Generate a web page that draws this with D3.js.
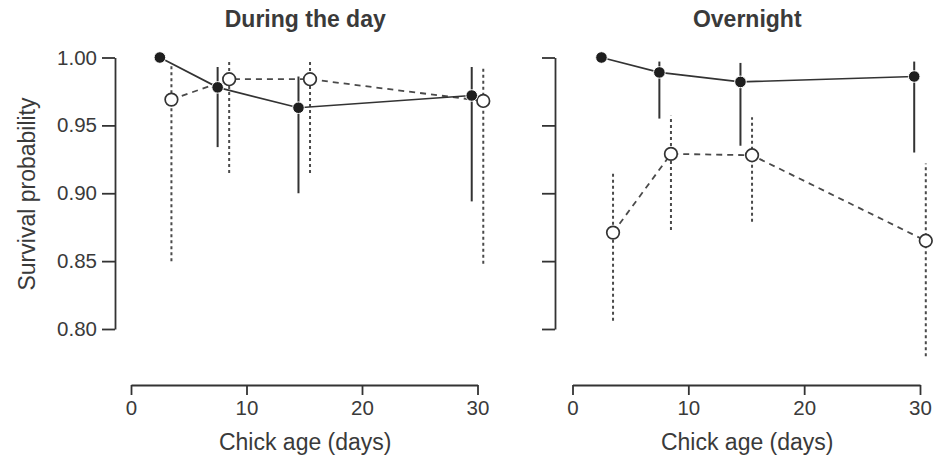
<!DOCTYPE html>
<html>
<head>
<meta charset="utf-8">
<script src="https://cdn.jsdelivr.net/npm/d3@7"></script>
<style>
  body { margin: 0; background: #fff; }
  text { font-family: "Liberation Sans", Arial, sans-serif; fill: #3a3a3a; }
</style>
</head>
<body>
<div id="chart"></div>
<script>
// chick age (days) for each group
const ageSolid = [2.5, 7.5, 14.5, 29.5];
const ageOpen = [3.5, 8.5, 15.5, 30.5];

// during the day
const daySolid = [1.000, 0.978, 0.963, 0.972];
const daySolidLo = [null, 0.934, 0.900, 0.894];
const daySolidHi = [null, 0.993, 0.986, 0.993];
const dayOpen = [0.969, 0.984, 0.984, 0.968];
const dayOpenLo = [0.850, 0.915, 0.915, 0.848];
const dayOpenHi = [0.996, 0.998, 0.998, 0.994];

// overnight
const nightSolid = [1.000, 0.989, 0.982, 0.986];
const nightSolidLo = [null, 0.955, 0.935, 0.930];
const nightSolidHi = [null, 0.997, 0.996, 0.997];
const nightOpen = [0.871, 0.929, 0.928, 0.865];
const nightOpenLo = [0.806, 0.873, 0.879, 0.780];
const nightOpenHi = [0.915, 0.957, 0.956, 0.922];

const xTicks = [0, 10, 20, 30];
const yTicks = [0.80, 0.85, 0.90, 0.95, 1.00];
const titles = ["During the day", "Overnight"];

const W = 946, H = 459;
const svg = d3.select("#chart").append("svg").attr("width", W).attr("height", H);

const ink = "#333";

function mk(x, v, lo, hi) {
  return x.map((d, i) => ({x: d, y: v[i], lo: lo[i], hi: hi[i]}));
}

const panels = [
  {title: titles[0], yAxisX: 115, x0: 131, x1: 477.5, labels: true,
   solid: mk(ageSolid, daySolid, daySolidLo, daySolidHi),
   open: mk(ageOpen, dayOpen, dayOpenLo, dayOpenHi)},
  {title: titles[1], yAxisX: 555, x0: 572.5, x1: 920, labels: false,
   solid: mk(ageSolid, nightSolid, nightSolidLo, nightSolidHi),
   open: mk(ageOpen, nightOpen, nightOpenLo, nightOpenHi)}
];

const y = d3.scaleLinear().domain([0.8, 1.0]).range([329, 57.5]);
const xAxisY = 385;

panels.forEach(p => {
  const x = d3.scaleLinear().domain([0, 30]).range([p.x0, p.x1]);
  const g = svg.append("g");

  // title
  g.append("text")
    .attr("x", (p.x0 + p.x1) / 2 + 1).attr("y", 27)
    .attr("text-anchor", "middle")
    .style("font-size", "23px").style("font-weight", "bold")
    .text(p.title);

  // y axis
  const ya = d3.axisLeft(y).tickValues(yTicks).tickSize(13).tickSizeOuter(0).tickPadding(5)
    .tickFormat(p.labels ? d3.format(".2f") : "");
  const yg = g.append("g").attr("transform", `translate(${p.yAxisX},0)`).call(ya);

  // x axis
  const xa = d3.axisBottom(x).tickValues(xTicks).tickSize(10).tickSizeOuter(0).tickPadding(5);
  const xg = g.append("g").attr("transform", `translate(0,${xAxisY})`).call(xa);

  [yg, xg].forEach(a => {
    a.select(".domain").attr("stroke", ink).attr("stroke-width", 1.8);
    a.selectAll(".tick line").attr("stroke", ink).attr("stroke-width", 1.8);
    a.selectAll(".tick text").style("font-size", "20.5px").attr("fill", "#3a3a3a");
  });

  g.append("text")
    .attr("x", (p.x0 + p.x1) / 2 + 1).attr("y", 450)
    .attr("text-anchor", "middle")
    .style("font-size", "23px")
    .text("Chick age (days)");

  if (p.labels) {
    g.append("text")
      .attr("transform", "translate(35,194) rotate(-90)")
      .attr("text-anchor", "middle")
      .style("font-size", "23px")
      .text("Survival probability");
  }

  const line = d3.line().x(d => x(d.x)).y(d => y(d.y));

  // open series: dashed error bars + dashed line
  g.selectAll(".eo").data(p.open).enter().append("line")
    .attr("x1", d => x(d.x)).attr("x2", d => x(d.x))
    .attr("y1", d => y(d.lo)).attr("y2", d => y(d.hi))
    .attr("stroke", "#4a4a4a").attr("stroke-width", 2)
    .attr("stroke-dasharray", "3,3");
  g.append("path").datum(p.open).attr("d", line)
    .attr("fill", "none").attr("stroke", "#4a4a4a").attr("stroke-width", 1.8)
    .attr("stroke-dasharray", "6,5");
  g.selectAll(".po").data(p.open).enter().append("circle")
    .attr("cx", d => x(d.x)).attr("cy", d => y(d.y)).attr("r", 6.3)
    .attr("fill", "#fff").attr("stroke", "#333").attr("stroke-width", 1.7);

  // solid series
  g.selectAll(".es").data(p.solid.filter(d => d.lo != null)).enter().append("line")
    .attr("x1", d => x(d.x)).attr("x2", d => x(d.x))
    .attr("y1", d => y(d.lo)).attr("y2", d => y(d.hi))
    .attr("stroke", ink).attr("stroke-width", 2);
  g.append("path").datum(p.solid).attr("d", line)
    .attr("fill", "none").attr("stroke", ink).attr("stroke-width", 1.7);
  g.selectAll(".ps").data(p.solid).enter().append("circle")
    .attr("cx", d => x(d.x)).attr("cy", d => y(d.y)).attr("r", 5.8)
    .attr("fill", "#1e1e1e").attr("stroke", "#fff").attr("stroke-width", 1);
});
</script>
</body>
</html>
